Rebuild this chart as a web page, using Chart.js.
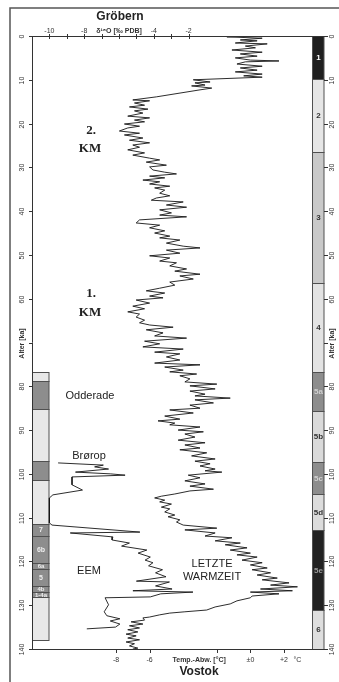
<!DOCTYPE html>
<html>
<head>
<meta charset="utf-8">
<script src="https://cdn.jsdelivr.net/npm/chart.js@4.4.1/dist/chart.umd.min.js"></script>
<style>
  html, body { margin: 0; padding: 0; background: #fff; }
  canvas { display: block; }
</style>
</head>
<body>
<canvas id="klimaChart" width="339" height="682"></canvas>
<script>
// Vostok: Temperaturabweichung [°C] über Alter [ka]
const vostokAge = [
  0.0, 0.2, 0.5, 0.9, 1.1, 1.6, 1.8, 2.3, 2.7, 3.2,
  3.7, 4.1, 4.6, 5.0, 5.5, 5.7, 5.9, 6.4, 6.9, 7.3,
  7.8, 8.2, 8.7, 9.1, 9.4, 10.0, 10.5, 10.7, 11.2, 11.4,
  11.9, 12.3, 13.9, 14.6, 14.8, 15.3, 15.8, 16.2, 16.7, 17.1,
  17.6, 18.3, 18.7, 19.2, 19.6, 20.1, 20.6, 21.0, 21.7, 22.2,
  22.6, 23.3, 23.8, 24.4, 24.9, 25.4, 26.0, 26.7, 27.2, 27.9,
  28.3, 28.8, 29.5, 29.9, 30.6, 31.1, 31.5, 32.0, 32.4, 32.9,
  33.3, 33.8, 34.3, 34.7, 35.2, 35.9, 36.5, 37.0, 37.5, 37.9,
  38.6, 39.1, 39.7, 40.4, 40.9, 41.3, 42.0, 42.7, 43.2, 43.8,
  44.5, 45.0, 45.7, 46.1, 46.6, 47.3, 48.0, 48.4, 48.9, 49.6,
  50.2, 50.7, 51.4, 51.8, 52.5, 53.2, 53.7, 54.4, 54.8, 55.5,
  56.2, 56.9, 57.6, 58.2, 58.7, 59.4, 59.8, 60.3, 61.0, 61.7,
  62.3, 63.0, 63.5, 64.2, 64.9, 65.5, 66.0, 66.5, 67.1, 67.8,
  68.5, 69.0, 69.7, 70.3, 71.0, 71.5, 72.2, 72.6, 73.3, 74.0,
  74.7, 75.1, 75.6, 76.3, 76.7, 77.2, 77.6, 78.3, 79.0, 79.5,
  79.9, 80.6, 81.1, 81.8, 82.2, 82.7, 83.1, 83.8, 84.3, 85.0,
  85.4, 86.1, 86.8, 87.5, 87.9, 88.4, 88.8, 89.3, 90.0, 90.4,
  90.9, 91.6, 92.3, 92.9, 93.4, 94.1, 94.5, 95.2, 95.9, 96.6,
  97.1, 97.7, 98.2, 98.9, 99.3, 99.6, 100.3, 100.9, 101.6, 102.3,
  102.8, 103.5, 103.9, 104.6, 105.1, 105.5, 106.0, 106.4, 106.9, 107.6,
  108.0, 108.7, 109.4, 109.8, 110.5, 111.0, 111.7, 112.4, 112.8, 113.5,
  114.2, 114.6, 115.3, 115.8, 116.2, 116.9, 117.4, 118.1, 118.5, 119.0,
  119.7, 120.3, 120.8, 121.5, 121.9, 122.6, 123.1, 123.8, 124.2, 124.9,
  125.4, 125.8, 126.3, 126.7, 127.0, 127.4, 127.9, 128.3, 129.0, 129.7,
  130.4, 131.1, 131.5, 131.8, 132.2, 132.7, 132.9, 133.4, 133.8, 134.3,
  134.7, 135.2, 135.6, 136.1, 136.6, 137.0, 137.5, 137.9, 138.4, 138.8,
  139.3, 139.8, 140.0,
];
const vostokTemp = [
  0.0, -1.4, 0.7, -0.6, 0.4, -0.9, 1.0, -0.3, 0.3, -1.1,
  0.7, -0.6, 0.4, -0.9, 0.0, 1.7, -0.3, -0.8, 0.7, -0.6,
  0.4, -0.9, 0.7, -0.4, 0.7, -3.4, -2.4, -3.3, -2.7, -3.5,
  -2.3, -3.0, -5.6, -7.0, -6.0, -6.9, -6.3, -7.2, -6.1, -6.9,
  -6.4, -7.3, -6.0, -6.9, -6.3, -7.5, -6.6, -7.3, -7.8, -6.6,
  -7.5, -6.4, -7.2, -6.0, -7.0, -6.6, -7.3, -6.3, -7.0, -6.0,
  -5.4, -6.2, -5.0, -6.0, -5.8, -5.1, -4.4, -6.0, -5.1, -6.4,
  -5.4, -6.0, -4.8, -5.7, -5.1, -5.4, -4.8, -5.6, -5.9, -4.0,
  -5.0, -3.8, -5.4, -4.7, -5.4, -3.8, -6.6, -6.8, -5.4, -6.0,
  -5.1, -5.7, -4.8, -5.4, -4.2, -5.0, -4.0, -3.0, -5.0, -4.2,
  -6.0, -4.8, -5.4, -4.4, -4.8, -3.8, -4.5, -3.0, -4.2, -3.4,
  -4.8, -4.5, -5.4, -6.2, -5.1, -6.0, -5.2, -6.8, -6.0, -7.0,
  -6.3, -7.3, -6.6, -6.8, -6.3, -6.6, -6.0, -4.6, -6.2, -5.2,
  -5.7, -3.8, -6.3, -5.4, -6.4, -4.0, -5.7, -4.2, -5.0, -4.2,
  -5.7, -3.0, -5.1, -4.0, -4.8, -3.2, -4.2, -3.6, -3.9, -2.0,
  -3.6, -2.1, -3.6, -2.7, -3.3, -1.2, -3.3, -2.2, -3.6, -3.0,
  -4.8, -3.4, -5.1, -4.2, -5.5, -4.5, -4.8, -3.0, -4.3, -2.8,
  -3.9, -3.3, -4.3, -2.7, -3.9, -3.0, -4.2, -2.6, -3.5, -2.1,
  -3.3, -2.4, -3.0, -2.1, -2.7, -1.7, -3.7, -3.0, -3.9, -2.7,
  -3.6, -2.2, -3.6, -4.5, -5.3, -5.7, -5.1, -5.4, -4.7, -5.3,
  -4.8, -5.1, -4.5, -4.9, -4.2, -4.4, -4.0, -2.0, -3.9, -2.1,
  -2.7, -1.1, -2.1, -0.6, -1.5, -0.2, -1.2, 0.0, -0.8, 0.4,
  -0.5, 0.7, 0.0, 1.0, 0.1, 1.2, 0.4, 1.6, 0.7, 2.3,
  1.2, 2.8, 0.6, 2.5, 0.0, 1.7, 0.1, 0.0, -0.8, -1.2,
  -2.1, -2.6, -3.9, -4.8, -5.4, -6.0, -6.4, -6.3, -7.1, -6.4,
  -7.2, -6.6, -7.3, -6.7, -7.4, -6.8, -7.3, -6.6, -7.4, -6.9,
  -7.2, -6.7, -7.0,
];

// Gröbern: δ18O [‰ PDB] über Alter [ka]
const groebernAge = [
  97.5, 98.0, 98.4, 98.9, 99.6, 100.0, 100.3, 100.7, 102.5, 103.7,
  104.8, 105.5, 111.2, 111.7, 113.3, 113.5, 114.4, 115.1, 115.8, 116.5,
  117.4, 118.1, 119.0, 119.7, 120.3, 121.0, 121.9, 122.6, 123.5, 124.5,
  124.7, 125.6, 126.3, 126.7, 127.0, 127.4, 128.1, 128.3, 129.9, 131.5,
  132.4, 133.1, 133.6, 134.3, 135.0, 135.4,
];
const groebernD18O = [
  -9.5, -6.9, -7.4, -6.6, -8.5, -6.5, -5.65, -8.7, -8.7, -8.1,
  -9.8, -10.0, -10.0, -9.85, -4.8, -8.8, -6.35, -6.4, -5.4, -5.85,
  -4.4, -4.9, -4.2, -4.5, -4.05, -4.3, -3.5, -3.9, -3.3, -5.0,
  -3.1, -3.9, -2.95, -5.2, -1.75, -3.6, -4.2, -6.8, -6.6, -6.85,
  -6.7, -5.95, -6.5, -5.95, -6.2, -7.85,
];

// Marine Isotopenstadien (rechte Säule)
const stageNames = ['1', '2', '3', '4', '5a', '5b', '5c', '5d', '5e', '6'];
const stageTops = [0, 9.8, 26.4, 56.3, 76.8, 85.6, 97.2, 104.7, 112.8, 131.2];
const stageBottoms = [9.8, 26.4, 56.3, 76.8, 85.6, 97.2, 104.7, 112.8, 131.2, 140];

// Pollenzonen / Interstadiale (linke Säule)
const zoneNames = ['', '', '', '', '', '7', '6b', '6a', '5', '4b', '1-4a', ''];
const zoneTops = [76.8, 78.7, 85.3, 97.0, 101.5, 111.5, 114.3, 120.4, 121.8, 125.6, 127.0, 128.2];
const zoneBottoms = [78.7, 85.3, 97.0, 101.5, 111.5, 114.3, 120.4, 121.8, 125.6, 127.0, 128.2, 137.9];

// Achsen
const ageTicks = [0, 10, 20, 30, 40, 50, 60, 70, 80, 90, 100, 110, 120, 130, 140];
const ageTickLabels = ['0', '10', '20', '30', '40', '50', '60', 'Alter [ka]', '80', '90', '100', '110', '120', '130', '140'];
const d18OTicks = [-10, -9, -8, -7, -6, -5, -4, -3, -2];
const d18OLabelValues = [-10, -8, -6, -4, -2];
const d18OLabels = ['-10', '-8', 'δ¹⁸O [‰ PDB]', '-4', '-2'];
const tempTicks = [-8, -6, -2, 0, 2];
const tempLabelValues = [-8, -6, -3.05, 0, 2, 2.8];
const tempLabels = ['-8', '-6', 'Temp.-Abw. [°C]', '±0', '+2', '°C'];

// Styles
const SANS = '"Liberation Sans", Arial, sans-serif';
const SERIF = '"Liberation Serif", "Times New Roman", serif';
const stageFills = ['#1f1f1f', '#e6e6e6', '#c9c9c9', '#e3e3e3', '#8d8d8d', '#dadada', '#8d8d8d', '#dcdcdc', '#222222', '#dedede'];
const stageText = ['#ffffff', '#333333', '#333333', '#333333', '#d0d0d0', '#333333', '#d0d0d0', '#333333', '#9a9a9a', '#333333'];
const zoneFills = ['#e8e8e8', '#8d8d8d', '#e8e8e8', '#8d8d8d', '#e8e8e8', '#8d8d8d', '#8d8d8d', '#8d8d8d', '#8d8d8d', '#8d8d8d', '#8d8d8d', '#e8e8e8'];

const columnsPlugin = {
  id: 'columns',
  beforeDatasetsDraw(chart) {
    const { ctx } = chart;
    const y = chart.scales.y;
    ctx.save();
    ctx.lineWidth = 1;
    ctx.strokeStyle = '#505050';
    ctx.textAlign = 'center';
    ctx.textBaseline = 'middle';

    stageNames.forEach((name, i) => {
      const top = Math.round(y.getPixelForValue(stageTops[i]));
      const bottom = Math.round(y.getPixelForValue(stageBottoms[i]));
      ctx.fillStyle = stageFills[i];
      ctx.fillRect(312, top, 12, bottom - top);
      ctx.strokeRect(312.5, top + 0.5, 11.5, bottom - top);
      ctx.fillStyle = stageText[i];
      ctx.font = `bold 8px ${SANS}`;
      ctx.fillText(name, 318.5, (top + bottom) / 2 + 0.5);
    });

    zoneNames.forEach((name, i) => {
      const top = Math.round(y.getPixelForValue(zoneTops[i]));
      const bottom = Math.round(y.getPixelForValue(zoneBottoms[i]));
      ctx.fillStyle = zoneFills[i];
      ctx.fillRect(32, top, 17, bottom - top);
      ctx.strokeRect(32.5, top + 0.5, 16.5, bottom - top);
      if (name) {
        ctx.fillStyle = '#eeeeee';
        ctx.font = `bold ${bottom - top < 8 ? 6 : 7}px ${SANS}`;
        ctx.fillText(name, 41, (top + bottom) / 2 + 0.5);
      }
    });
    ctx.restore();
  },
  afterDraw(chart) {
    const { ctx, chartArea } = chart;
    const { x, x2, y } = chart.scales;
    ctx.save();

    // Rahmen
    ctx.strokeStyle = '#555';
    ctx.lineWidth = 1.5;
    ctx.beginPath();
    ctx.moveTo(10, 682);
    ctx.lineTo(10, 8);
    ctx.lineTo(339, 8);
    ctx.stroke();

    // Achsenlinien
    ctx.strokeStyle = '#333';
    ctx.lineWidth = 1;
    ctx.beginPath();
    ctx.moveTo(chartArea.left + 0.5, chartArea.top);
    ctx.lineTo(chartArea.left + 0.5, chartArea.bottom);
    ctx.moveTo(chartArea.left, chartArea.top + 0.5);
    ctx.lineTo(328, chartArea.top + 0.5);
    ctx.moveTo(chartArea.left, chartArea.bottom + 0.5);
    ctx.lineTo(325, chartArea.bottom + 0.5);
    ctx.stroke();

    ctx.fillStyle = '#333';
    ctx.font = `7px ${SANS}`;
    ctx.textAlign = 'center';
    ctx.textBaseline = 'middle';

    // Altersachsen links und rechts
    ageTicks.forEach((v, i) => {
      const py = Math.round(y.getPixelForValue(v)) + 0.5;
      ctx.beginPath();
      ctx.moveTo(29, py);
      ctx.lineTo(32, py);
      ctx.moveTo(324, py);
      ctx.lineTo(328, py);
      ctx.stroke();
      const isTitle = ageTickLabels[i].length > 3;
      ctx.font = `${isTitle ? 'bold ' : ''}7px ${SANS}`;
      [22, 332].forEach((px) => {
        ctx.save();
        ctx.translate(px, py);
        ctx.rotate(-Math.PI / 2);
        ctx.fillText(ageTickLabels[i], 0, 0);
        ctx.restore();
      });
    });

    // δ18O-Achse oben
    d18OTicks.forEach((v) => {
      const px = Math.round(x2.getPixelForValue(v)) + 0.5;
      ctx.beginPath();
      ctx.moveTo(px, chartArea.top - 2);
      ctx.lineTo(px, chartArea.top + 3);
      ctx.stroke();
    });
    d18OLabelValues.forEach((v, i) => {
      const isTitle = d18OLabels[i].length > 3;
      ctx.font = `${isTitle ? 'bold ' : ''}7px ${SANS}`;
      ctx.fillText(d18OLabels[i], x2.getPixelForValue(v), chartArea.top - 5);
    });

    // Temperaturachse unten
    tempTicks.forEach((v) => {
      const px = Math.round(x.getPixelForValue(v)) + 0.5;
      ctx.beginPath();
      ctx.moveTo(px, chartArea.bottom);
      ctx.lineTo(px, chartArea.bottom + 4);
      ctx.stroke();
    });
    tempLabelValues.forEach((v, i) => {
      const isTitle = tempLabels[i].length > 3;
      ctx.font = `${isTitle ? 'bold ' : ''}7px ${SANS}`;
      ctx.fillText(tempLabels[i], x.getPixelForValue(v), chartArea.bottom + 11);
    });

    // Titel
    ctx.fillStyle = '#222';
    ctx.font = `bold 12px ${SANS}`;
    ctx.fillText('Gröbern', 120, 17);
    ctx.fillText('Vostok', 199, 672);

    // Beschriftungen im Diagramm
    ctx.font = `11px ${SANS}`;
    ctx.fillText('Odderade', 90, 396);
    ctx.fillText('Brørop', 89, 456);
    ctx.fillText('EEM', 89, 571);
    ctx.fillText('LETZTE', 212, 564);
    ctx.fillText('WARMZEIT', 212, 577);

    ctx.font = `bold 13px ${SERIF}`;
    ctx.fillText('2.', 91, 131);
    ctx.fillText('KM', 90, 149);
    ctx.fillText('1.', 91, 294);
    ctx.fillText('KM', 90, 313);

    ctx.restore();
  },
};

const toPoints = (ages, values) => ages.map((age, i) => ({ x: values[i], y: age }));

const ctx = document.getElementById('klimaChart').getContext('2d');
new Chart(ctx, {
  type: 'scatter',
  data: {
    datasets: [
      {
        label: 'Vostok',
        data: toPoints(vostokAge, vostokTemp),
        xAxisID: 'x',
        showLine: true,
        borderColor: '#151515',
        borderWidth: 0.9,
        pointRadius: 0,
        tension: 0,
      },
      {
        label: 'Gröbern',
        data: toPoints(groebernAge, groebernD18O),
        xAxisID: 'x2',
        showLine: true,
        borderColor: '#151515',
        borderWidth: 0.9,
        pointRadius: 0,
        tension: 0,
      },
    ],
  },
  options: {
    responsive: false,
    animation: false,
    layout: { padding: { left: 32, right: 14, top: 36, bottom: 33 } },
    plugins: {
      legend: { display: false },
      tooltip: { enabled: false },
    },
    scales: {
      x: { type: 'linear', position: 'bottom', display: false, min: -13, max: 4.44 },
      x2: { type: 'linear', position: 'top', axis: 'x', display: false, min: -11, max: 5.84 },
      y: { type: 'linear', display: false, reverse: true, min: 0, max: 140 },
    },
  },
  plugins: [columnsPlugin],
});
</script>
</body>
</html>
